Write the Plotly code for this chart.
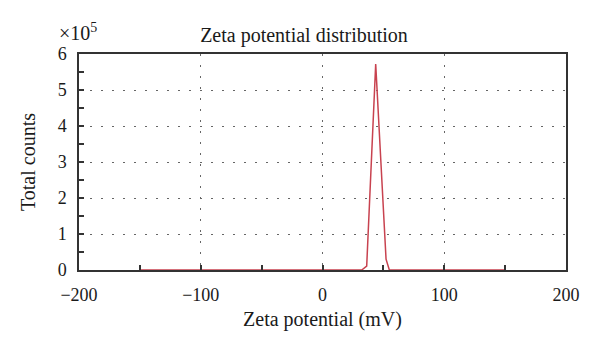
import plotly.graph_objects as go

# Data (zeta potential in mV, total counts)
zeta_mv = [-150, -100, -50, 0, 20, 32.2, 36.3, 43.7, 52.2, 54.9, 80, 100, 150]
total_counts = [0, 0, 0, 0, 0, 0, 11000, 572000, 30000, 0, 0, 0, 0]

x_ticks = [-200, -100, 0, 100, 200]
y_tickvals = [0, 100000, 200000, 300000, 400000, 500000, 600000]
y_ticktext = ["0", "1", "2", "3", "4", "5", "6"]

font_family = "Liberation Serif"
axis_color = "#333333"
grid_dash = "1.5px,9.5px"

fig = go.Figure()
fig.add_trace(go.Scatter(
    x=zeta_mv, y=total_counts, mode="lines",
    line=dict(color="#c8424f", width=1.5),
    showlegend=False,
))

fig.update_layout(
    width=600, height=355,
    margin=dict(l=79, r=34, t=54, b=85),
    paper_bgcolor="white", plot_bgcolor="white",
    font=dict(family=font_family, size=18, color="#1a1a1a"),
    title=dict(text="Zeta potential distribution", x=(304 / 600), xanchor="center",
               y=1 - 35 / 355, yanchor="middle", font=dict(size=20)),
)

fig.update_xaxes(
    range=[-200, 200], tickvals=x_ticks, automargin=False,
    showline=True, linecolor=axis_color, linewidth=1.5, mirror=True,
    ticks="inside", ticklen=5, tickcolor=axis_color, tickwidth=1.5,
    minor=dict(dtick=50, tick0=0, ticks="inside", ticklen=5, tickcolor=axis_color, tickwidth=1.5, showgrid=False),
    showgrid=True, gridcolor="#666666", griddash=grid_dash, gridwidth=1,
    zeroline=False, ticklabelstandoff=8, tickfont=dict(size=18),
    title=dict(text="Zeta potential (mV)", standoff=8, font=dict(size=20)),
)
fig.update_yaxes(
    range=[0, 600000], tickvals=y_tickvals, ticktext=y_ticktext, automargin=False,
    showline=True, linecolor=axis_color, linewidth=1.5, mirror=True,
    ticks="inside", ticklen=5, tickcolor=axis_color, tickwidth=1.5,
    minor=dict(dtick=50000, tick0=0, ticks="inside", ticklen=5, tickcolor=axis_color, tickwidth=1.5, showgrid=False),
    showgrid=True, gridcolor="#666666", griddash=grid_dash, gridwidth=1,
    zeroline=False, ticklabelstandoff=7, tickfont=dict(size=18),
    title=dict(text="Total counts", standoff=17, font=dict(size=20)),
)

fig.add_annotation(
    text="×10<sup>5</sup>", xref="paper", yref="paper",
    x=(57 - 79) / 487, y=1.0, xanchor="left", yanchor="bottom", yshift=8,
    showarrow=False, font=dict(size=20, family=font_family),
)

fig.write_html("out.html", config={"displayModeBar": False},
               post_script="document.body.style.margin='0';")
